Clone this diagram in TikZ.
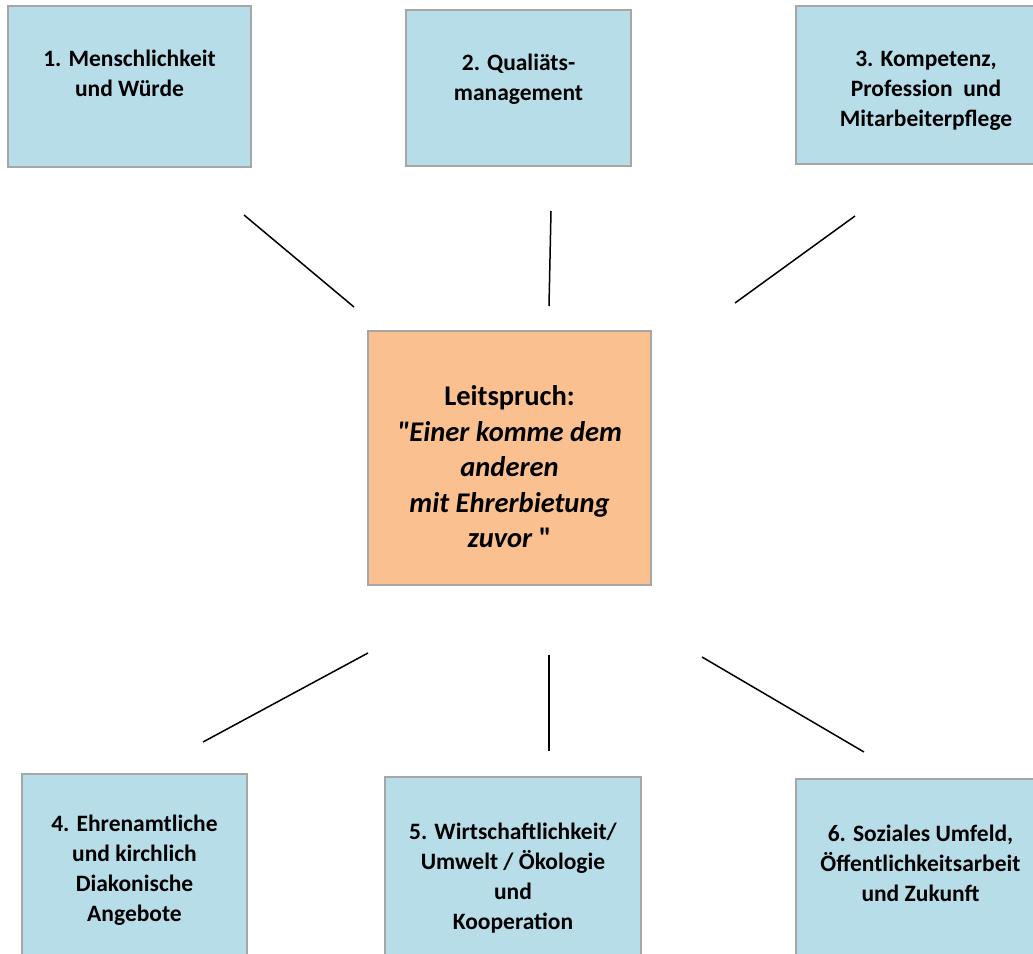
\documentclass[tikz,border=0pt]{standalone}
\usepackage{fontspec}
\setmainfont{Carlito}[Ligatures=TeXOff]
\definecolor{boxblue}{HTML}{B7DDE8}
\definecolor{boxorange}{HTML}{FAC090}
\definecolor{boxline}{HTML}{A6A6A6}
\begin{document}
\begin{tikzpicture}[x=1pt,y=-1pt,
  box/.style={draw=boxline, line width=1.6pt, fill=boxblue, inner sep=0pt},
  centerbox/.style={box, fill=boxorange},
  lbl/.style={align=center, inner sep=0pt, font=\fontsize{23.5}{30}\selectfont\bfseries},
  clbl/.style={align=center, inner sep=0pt, font=\fontsize{28.5}{35.5}\selectfont\bfseries},
  conn/.style={draw=black, line width=1.5pt}]
\useasboundingbox (0,0) rectangle (1033,953);
\clip (0,0) rectangle (1033,953);
% boxes
\node[box, minimum width=243pt, minimum height=161pt] (b1) at (129.5,86.5) {};
\node[box, minimum width=225pt, minimum height=156pt] (b2) at (518.5,88) {};
\node[box, minimum width=260pt, minimum height=158pt] (b3) at (926,85) {};
\node[centerbox, minimum width=283pt, minimum height=254pt] (bc) at (509.5,458) {};
\node[box, minimum width=225pt, minimum height=206pt] (b4) at (134.5,877) {};
\node[box, minimum width=256pt, minimum height=203pt] (b5) at (513,878.5) {};
\node[box, minimum width=249pt, minimum height=201pt] (b6) at (920.5,879.5) {};
% texts
\node[lbl] (t1) at (129.5,73) {1. Menschlichkeit\\und Würde};
\node[lbl] (t2) at (518.5,79) {2. Qualiäts-\\management};
\node[lbl] (t3) at (926,90.5) {3. Kompetenz,\\Profession~ und\\Mitarbeiterpflege};
\node[clbl] (tc) at (509.5,467) {Leitspruch:\\\textit{"Einer komme dem}\\\textit{anderen}\\\textit{mit Ehrerbietung}\\\textit{zuvor} "};
\node[lbl] (t4) at (134.5,870.5) {4. Ehrenamtliche\\und kirchlich\\Diakonische\\Angebote};
\node[lbl] (t5) at (513,878) {5. Wirtschaftlichkeit/\\Umwelt / Ökologie\\und\\Kooperation};
\node[lbl] (t6) at (920.5,863.5) {6. Soziales Umfeld,\\Öffentlichkeitsarbeit\\und Zukunft};
% connector end points
\coordinate (c1a) at (244,215); \coordinate (c1b) at (354,307);
\coordinate (c2a) at (551,211); \coordinate (c2b) at (549,306);
\coordinate (c3a) at (855,216); \coordinate (c3b) at (735,303);
\coordinate (c4a) at (368,653); \coordinate (c4b) at (203,742);
\coordinate (c5a) at (549,655); \coordinate (c5b) at (549,751);
\coordinate (c6a) at (702,657); \coordinate (c6b) at (864,752);
\draw[conn] (c1a) -- (c1b);
\draw[conn] (c2a) -- (c2b);
\draw[conn] (c3a) -- (c3b);
\draw[conn] (c4a) -- (c4b);
\draw[conn] (c5a) -- (c5b);
\draw[conn] (c6a) -- (c6b);
\end{tikzpicture}
\end{document}
